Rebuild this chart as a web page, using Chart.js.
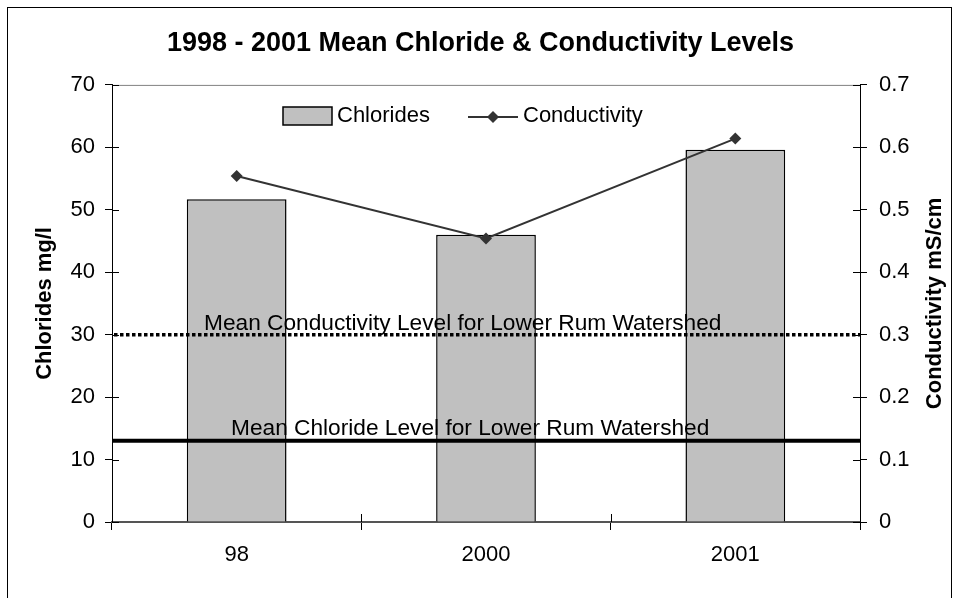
<!DOCTYPE html>
<html>
<head>
<meta charset="utf-8">
<script src="https://cdn.jsdelivr.net/npm/chart.js@4.4.1/dist/chart.umd.min.js"></script>
<style>
  html, body { margin: 0; padding: 0; background: #fff; }
  #wrap { position: relative; width: 961px; height: 598px; }
  #frame { position: absolute; left: 7px; top: 7px; width: 945px; height: 620px; border: 1px solid #000; box-sizing: border-box; }
  canvas { position: absolute; left: 0; top: 0; }
</style>
</head>
<body>
<div id="wrap">
  <div id="frame"></div>
  <canvas id="chart" width="961" height="598"></canvas>
</div>
<script>
/* ===== DATA ===== */
const years        = ['98', '2000', '2001'];
const chlorides    = [51.7, 46.0, 59.6];
const conductivity = [0.554, 0.454, 0.614];
const chlorideTicks = [0, 10, 20, 30, 40, 50, 60, 70];
const condTicks     = [0, 0.1, 0.2, 0.3, 0.4, 0.5, 0.6, 0.7];
const meanChlorideLevel     = 13;
const meanConductivityLevel = 0.3;

const FONT = "'Liberation Sans', Arial, sans-serif";
Chart.defaults.font.family = FONT;
Chart.defaults.color = '#000';

/* ===== REFERENCE LINES, LEGEND, AXIS TITLES ===== */
const extras = {
  id: 'extras',
  afterDatasetsDraw(chart) {
    const { ctx, chartArea: a, scales } = chart;
    ctx.save();

    // plot border top (gray)
    ctx.strokeStyle = '#808080';
    ctx.lineWidth = 1;
    ctx.beginPath();
    ctx.moveTo(a.left, a.top + 0.5);
    ctx.lineTo(a.right, a.top + 0.5);
    ctx.stroke();

    // mean conductivity (dotted) on right axis
    const yc = scales.y1.getPixelForValue(meanConductivityLevel);
    ctx.strokeStyle = '#000';
    ctx.lineWidth = 3.5;
    ctx.setLineDash([3.5, 2.5]);
    ctx.beginPath();
    ctx.moveTo(a.left + 2, yc);
    ctx.lineTo(a.right, yc);
    ctx.stroke();
    ctx.setLineDash([]);

    // mean chloride (solid) on left axis
    const yl = scales.y.getPixelForValue(meanChlorideLevel);
    ctx.lineWidth = 4;
    ctx.beginPath();
    ctx.moveTo(a.left, yl);
    ctx.lineTo(a.right, yl);
    ctx.stroke();

    ctx.fillStyle = '#000';
    ctx.font = '22.7px ' + FONT;
    ctx.textBaseline = 'alphabetic';
    ctx.textAlign = 'left';
    ctx.fillText('Mean Conductivity Level for Lower Rum Watershed', 204, yc - 5);
    ctx.fillText('Mean Chloride Level for Lower Rum Watershed', 231, yl - 6);

    // inner tick halves
    ctx.lineWidth = 1;
    ctx.strokeStyle = '#000';
    ctx.beginPath();
    scales.y.ticks.forEach((t, i) => {
      const p = Math.round(scales.y.getPixelForTick(i)) + 0.5;
      ctx.moveTo(a.left, p); ctx.lineTo(a.left + 7, p);
    });
    scales.y1.ticks.forEach((t, i) => {
      const p = Math.round(scales.y1.getPixelForTick(i)) + 0.5;
      ctx.moveTo(a.right, p); ctx.lineTo(a.right - 7, p);
    });
    for (let i = 1; i < years.length; i++) {
      const p = Math.round((scales.x.getPixelForTick(i - 1) + scales.x.getPixelForTick(i)) / 2) + 0.5;
      ctx.moveTo(p, a.bottom); ctx.lineTo(p, a.bottom - 8);
    }
    ctx.stroke();

    // legend
    const lx = 283, ly = 107;
    ctx.font = '22px ' + FONT;
    ctx.fillStyle = '#c0c0c0';
    ctx.fillRect(lx, ly, 49, 18);
    ctx.strokeStyle = '#000';
    ctx.lineWidth = 1.5;
    ctx.strokeRect(lx, ly, 49, 18);
    ctx.fillStyle = '#000';
    ctx.textBaseline = 'middle';
    ctx.fillText('Chlorides', 337, ly + 9);
    ctx.strokeStyle = '#333';
    ctx.lineWidth = 2;
    ctx.beginPath();
    ctx.moveTo(468, ly + 10); ctx.lineTo(518, ly + 10);
    ctx.stroke();
    ctx.fillStyle = '#333';
    ctx.beginPath();
    ctx.moveTo(493, ly + 4); ctx.lineTo(499, ly + 10); ctx.lineTo(493, ly + 16); ctx.lineTo(487, ly + 10);
    ctx.closePath(); ctx.fill();
    ctx.fillStyle = '#000';
    ctx.fillText('Conductivity', 523, ly + 9);

    // axis titles (both read bottom to top)
    ctx.font = 'bold 22px ' + FONT;
    ctx.textAlign = 'center';
    const midY = (a.top + a.bottom) / 2;
    ctx.save();
    ctx.translate(45, midY);
    ctx.rotate(-Math.PI / 2);
    ctx.fillText('Chlorides mg/l', 0, 0);
    ctx.restore();
    ctx.save();
    ctx.translate(935, midY);
    ctx.rotate(-Math.PI / 2);
    ctx.fillText('Conductivity mS/cm', 0, 0);
    ctx.restore();

    ctx.restore();
  }
};

new Chart(document.getElementById('chart'), {
  data: {
    labels: years,
    datasets: [
      {
        type: 'line',
        label: 'Conductivity',
        data: conductivity,
        yAxisID: 'y1',
        borderColor: '#333',
        backgroundColor: '#333',
        borderWidth: 2,
        pointStyle: 'rectRot',
        pointRadius: 6,
        pointBorderWidth: 0,
        tension: 0,
        order: 0
      },
      {
        type: 'bar',
        label: 'Chlorides',
        data: chlorides,
        yAxisID: 'y',
        backgroundColor: '#c0c0c0',
        borderColor: '#000',
        borderWidth: 1.5,
        barPercentage: 0.4,
        categoryPercentage: 1,
        order: 1
      }
    ]
  },
  options: {
    responsive: false,
    animation: false,
    layout: { padding: { left: 8, right: 8, top: 0, bottom: 0 } },
    plugins: {
      legend: { display: false },
      tooltip: { enabled: false },
      title: {
        display: true,
        text: '1998 - 2001 Mean Chloride & Conductivity Levels',
        font: { size: 27, weight: 'bold' },
        color: '#000',
        padding: { top: 27, bottom: 25.5 }
      }
    },
    scales: {
      x: {
        grid: { offset: true, drawOnChartArea: false, tickLength: 8, color: '#000' },
        border: { color: '#555', width: 2 },
        ticks: { font: { size: 22 }, padding: 12 },
        afterFit: s => { s.height = 76; }
      },
      y: {
        position: 'left',
        min: 0, max: 70,
        afterBuildTicks: s => { s.ticks = chlorideTicks.map(v => ({ value: v })); },
        grid: { drawOnChartArea: false, tickLength: 7, color: '#000' },
        border: { color: '#000', width: 1 },
        ticks: { font: { size: 22 }, padding: 10 },
        afterFit: s => { s.width = 104; }
      },
      y1: {
        position: 'right',
        min: 0, max: 0.7,
        afterBuildTicks: s => { s.ticks = condTicks.map(v => ({ value: v })); },
        grid: { drawOnChartArea: false, tickLength: 7, color: '#000' },
        border: { color: '#000', width: 1 },
        ticks: { font: { size: 22 }, padding: 12, callback: v => String(+v.toFixed(1)) },
        afterFit: s => { s.width = 93; }
      }
    }
  },
  plugins: [extras]
});
</script>
</body>
</html>
